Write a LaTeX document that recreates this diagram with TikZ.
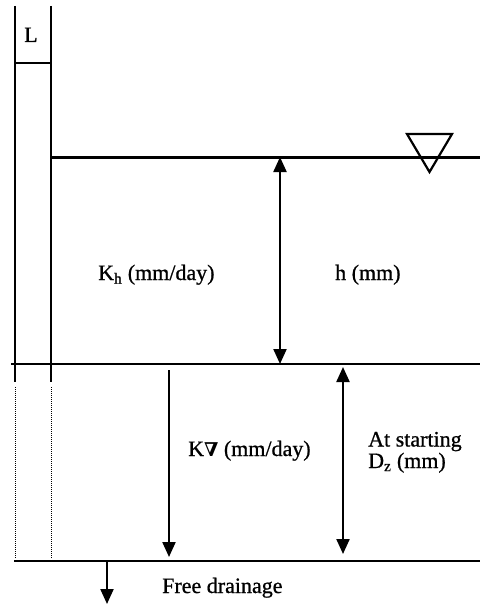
\documentclass[tikz,border=0pt]{standalone}
\usepackage{fontspec}
\setmainfont{Liberation Serif}[FakeBold=0.8,AutoFakeBold=0.8]
\newfontfamily\symfont{DejaVu Serif}
\usetikzlibrary{arrows.meta}
\begin{document}
\begin{tikzpicture}[x=1pt,y=-1pt,
  wall/.style={line width=2.2pt},
  dots/.style={line width=1pt,dash pattern=on 1pt off 1pt},
  arr/.style={line width=2.2pt,-{Triangle[width=13pt,length=15pt]}},
  darr/.style={line width=2.2pt,{Triangle[width=13pt,length=15pt]}-{Triangle[width=13pt,length=15pt]}},
  lbl/.style={inner sep=0pt,anchor=base west,font=\fontsize{22}{26}\selectfont}]
\useasboundingbox (0,0) rectangle (480,604);
% walls of the cylinder
\coordinate (wlt) at (15,6);
\coordinate (wlb) at (15,382);
\coordinate (wrt) at (51,6);
\coordinate (wrb) at (51,382);
\draw[wall] (wlt) -- (wlb);
\draw[wall] (wrt) -- (wrb);
\coordinate (dlt) at (15,387);
\coordinate (dlb) at (15,558);
\coordinate (drt) at (51,387);
\coordinate (drb) at (51,558);
\draw[dots] (dlt) -- (dlb);
\draw[dots] (drt) -- (drb);
% L box
\coordinate (la) at (15,63);
\coordinate (lb) at (51,63);
\draw[wall] (la) -- (lb);
\node[lbl] (L) at (24,42) {L};
% water surface
\coordinate (ws1) at (51,157.5);
\coordinate (ws2) at (480,157.5);
\draw[wall] (ws1) -- (ws2);
\coordinate (t1) at (407,134);
\coordinate (t2) at (452,134);
\coordinate (t3) at (429.5,172);
\draw[line width=2.2pt,line join=miter] (t1) -- (t2) -- (t3) -- cycle;
% soil surface
\coordinate (ss1) at (11,364);
\coordinate (ss2) at (480,364);
\draw[wall] (ss1) -- (ss2);
% bottom
\coordinate (bt1) at (14,561);
\coordinate (bt2) at (480,561);
\draw[wall] (bt1) -- (bt2);
% arrows
\coordinate (h1) at (280,157);
\coordinate (h2) at (280,364);
\draw[darr] (h2) -- (h1);
\coordinate (k1) at (169,370);
\coordinate (k2) at (169,557);
\draw[arr] (k1) -- (k2);
\coordinate (d1) at (343,367);
\coordinate (d2) at (343,554);
\draw[darr] (d1) -- (d2);
\coordinate (f1) at (107,561);
\coordinate (f2) at (107,604);
\draw[arr] (f1) -- (f2);
% labels
\node[lbl] (kh) at (98,280) {K\textsubscript{h} (mm/day)};
\node[lbl] (hh) at (335,280) {h (mm)};
\node[lbl] (kv) at (188,456) {K{\symfont\bfseries\fontsize{19}{22}\selectfont ∇} (mm/day)};
\node[lbl] (at) at (368,446.5) {At starting};
\node[lbl] (dz) at (368,468) {D\textsubscript{z} (mm)};
\node[lbl] (fd) at (162,593) {Free drainage};
\end{tikzpicture}
\end{document}
